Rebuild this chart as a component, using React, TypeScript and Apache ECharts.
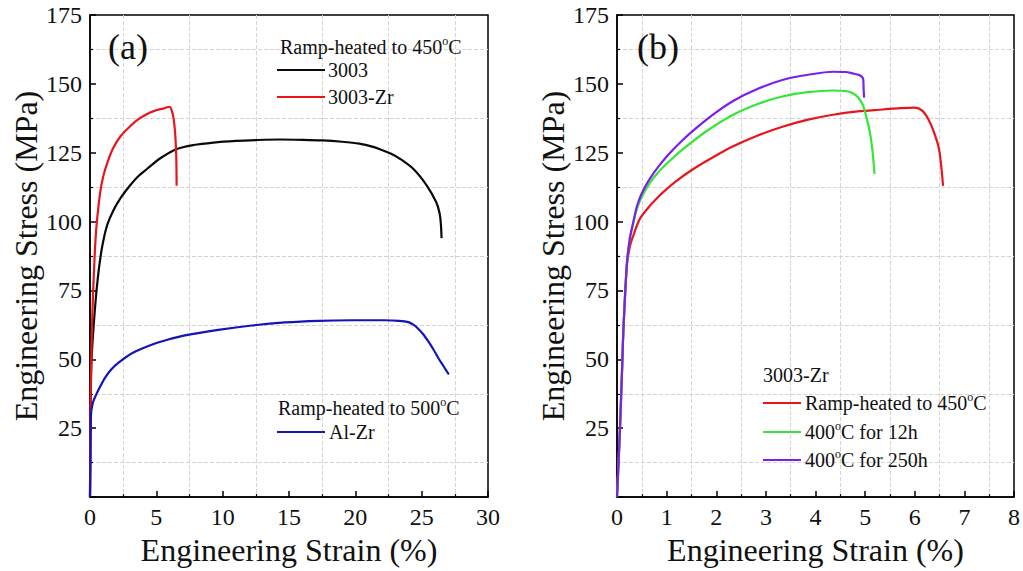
import React, { useEffect, useRef } from "react";
import * as echarts from "echarts";

// ---- Data (strain %, stress MPa) ----
const a3003: [number, number][] = [
  [0, 0], [0.04, 30], [0.1, 48], [0.2, 57], [0.4, 70], [0.6, 80], [0.8, 87.5], [1.0, 93],
  [1.3, 98.8], [1.76, 104], [2.3, 108.5], [3.0, 113], [3.6, 116.3], [4.27, 119], [5.3, 123],
  [6.5, 126.3], [7.8, 127.8], [9.3, 128.7], [11, 129.3], [12.5, 129.6], [14.3, 129.8],
  [16, 129.7], [17.5, 129.5], [19, 129], [20.3, 128.3], [21.2, 127.3], [21.85, 126.3],
  [22.7, 124.6], [23.4, 122.7], [24.4, 119], [25.4, 113], [26.1, 107], [26.35, 103],
  [26.45, 99], [26.5, 94],
];
const a3003Zr: [number, number][] = [
  [0, 0], [0.03, 25], [0.06, 40], [0.15, 62], [0.25, 76], [0.37, 89.5], [0.5, 99], [0.75, 110],
  [1.0, 116.5], [1.35, 122], [1.76, 126.8], [2.3, 131], [3.0, 134.5], [3.6, 137], [4.27, 139],
  [4.9, 140.3], [5.5, 141], [5.8, 141.5], [6.0, 141.7], [6.15, 140.5], [6.3, 137.5],
  [6.42, 132], [6.5, 124], [6.53, 113],
];
const aAlZr: [number, number][] = [
  [0, 0], [0.03, 12], [0.075, 30], [0.2, 34], [0.38, 36.3], [0.7, 39.5], [1.13, 43.3],
  [1.6, 46.3], [2.13, 48.7], [3.2, 52.3], [4.65, 55.3], [5.9, 57.2], [7.16, 58.7], [9.67, 60.7],
  [12.2, 62.3], [14.7, 63.4], [17.2, 64], [19.7, 64.2], [22.2, 64.2], [23.3, 64], [24.0, 63.5],
  [24.4, 62.5], [24.7, 61.3], [25.1, 59.2], [25.5, 56.5], [25.9, 53.5], [26.25, 50.5],
  [26.65, 47.5], [27.05, 44.5],
];

const bRamp: [number, number][] = [
  [0, 0], [0.03, 12], [0.06, 25], [0.1, 45], [0.13, 61], [0.2, 84], [0.26, 91], [0.33, 95],
  [0.46, 101], [0.65, 105.5], [0.86, 109.5], [1.0, 111.8], [1.2, 114.8], [1.53, 119],
  [1.9, 123], [2.3, 127], [2.8, 131], [3.35, 134.5], [3.85, 137], [4.35, 138.8], [4.85, 140],
  [5.36, 140.7], [5.7, 141.2], [6.0, 141.4], [6.15, 140.3], [6.28, 137], [6.39, 132.3],
  [6.49, 126.3], [6.54, 119], [6.57, 113],
];
const b12h: [number, number][] = [
  [0, 0], [0.03, 12], [0.06, 25], [0.1, 45], [0.13, 61], [0.2, 85], [0.26, 94], [0.33, 99.5],
  [0.4, 104.5], [0.5, 109], [0.66, 114], [0.85, 118.3], [1.07, 122.2], [1.33, 126.3],
  [1.8, 132.8], [2.34, 138.8], [2.85, 142.8], [3.35, 145.5], [3.85, 147], [4.35, 147.6],
  [4.6, 147.4], [4.75, 146.6], [4.85, 145.2], [4.95, 142.5], [5.02, 138.3], [5.09, 133],
  [5.14, 127], [5.19, 117.3],
];
const b250h: [number, number][] = [
  [0, 0], [0.03, 12], [0.06, 25], [0.1, 45], [0.13, 61], [0.2, 85], [0.26, 94], [0.33, 100],
  [0.4, 105.5], [0.5, 110.3], [0.66, 115.5], [0.85, 120.3], [1.07, 125], [1.33, 129.7],
  [1.6, 134], [1.9, 138.4], [2.34, 143.8], [2.85, 148.3], [3.35, 151.5], [3.85, 153.3],
  [4.35, 154.4], [4.6, 154.3], [4.75, 153.8], [4.88, 153.2], [4.96, 151.8], [4.97, 148],
  [4.98, 145],
];

const yTicks = [0, 25, 50, 75, 100, 125, 150, 175];
const xTicksA = [0, 5, 10, 15, 20, 25, 30];
const xTicksB = [0, 1, 2, 3, 4, 5, 6, 7, 8];

const COL = {
  black: "#0a0a0a",
  red: "#e8151b",
  blue: "#1414b8",
  green: "#35e635",
  purple: "#7a1ff0",
};

const FONT = "'Liberation Serif', 'Times New Roman', serif";

export default function App() {
  const ref = useRef<HTMLDivElement>(null);
  useEffect(() => {
    document.body.style.margin = "0";
    const chart = echarts.init(ref.current!, null, { renderer: "svg" });

    const axisCommon = {
      type: "value" as const,
      axisLine: { show: true, lineStyle: { color: "#000", width: 1.5 } },
      axisTick: { show: true, inside: true, length: 6, lineStyle: { color: "#000", width: 1.5 } },
      minorTick: { show: true, splitNumber: 2, length: 3, lineStyle: { color: "#000", width: 1.2 } },
      splitLine: { show: false },
      minorSplitLine: { show: true, lineStyle: { color: "#d4d4d4", type: "dashed", width: 1 } },
      axisLabel: { color: "#111", fontFamily: FONT, fontSize: 24, margin: 8 },
      nameTextStyle: { color: "#111", fontFamily: FONT, fontSize: 32 },
    };

    const xAxis = (idx: number, ticks: number[]) => ({
      ...axisCommon,
      gridIndex: idx,
      min: ticks[0],
      max: ticks[ticks.length - 1],
      interval: ticks[1] - ticks[0],
      name: "Engineering Strain (%)",
      nameLocation: "middle",
      nameGap: 32,
    });
    const yAxis = (idx: number) => ({
      ...axisCommon,
      gridIndex: idx,
      min: yTicks[0],
      max: yTicks[yTicks.length - 1],
      interval: yTicks[1] - yTicks[0],
      name: "Engineering Stress (MPa)",
      nameLocation: "middle",
      nameGap: 48,
      axisLabel: {
        ...axisCommon.axisLabel,
        formatter: (v: number) => (v === 0 ? "" : String(v)),
      },
    });

    const line = (name: string, data: [number, number][], color: string, idx: number) => ({
      name,
      type: "line",
      xAxisIndex: idx,
      yAxisIndex: idx,
      data,
      showSymbol: false,
      symbol: "none",
      smooth: 0.3,
      lineStyle: { color, width: 2.2 },
      z: 3,
    });

    const txt = (x: number, y: number, text: string, size = 20) => ({
      type: "text",
      x,
      y,
      style: {
        text,
        fontFamily: FONT,
        fontSize: size,
        fill: "#111",
        verticalAlign: "middle",
        rich: {
          s: { fontSize: 12, fontFamily: FONT, fill: "#111", padding: [0, 0, 12, 0] },
        },
      },
      z: 10,
    });
    const seg = (x1: number, x2: number, y: number, color: string) => ({
      type: "line",
      shape: { x1, y1: y, x2, y2: y },
      style: { stroke: color, lineWidth: 2.2 },
      z: 10,
    });

    chart.setOption({
      animation: false,
      backgroundColor: "#fff",
      grid: [
        { left: 90, width: 398, top: 15, height: 485, show: true, borderColor: "#000", borderWidth: 1.5, backgroundColor: "transparent" },
        { left: 617, width: 398, top: 15, height: 485, show: true, borderColor: "#000", borderWidth: 1.5, backgroundColor: "transparent" },
      ],
      xAxis: [xAxis(0, xTicksA), xAxis(1, xTicksB)],
      yAxis: [yAxis(0), yAxis(1)],
      series: [
        line("3003", a3003, COL.black, 0),
        line("3003-Zr", a3003Zr, COL.red, 0),
        line("Al-Zr", aAlZr, COL.blue, 0),
        line("Ramp-heated to 450°C", bRamp, COL.red, 1),
        line("400°C for 12h", b12h, COL.green, 1),
        line("400°C for 250h", b250h, COL.purple, 1),
      ],
      graphic: [
        txt(108, 47, "(a)", 36),
        txt(637, 47, "(b)", 36),
        txt(280, 47, "Ramp-heated to 450{s|o}C"),
        seg(277, 325, 70, COL.black),
        txt(328, 70, "3003"),
        seg(277, 325, 97, COL.red),
        txt(328, 97, "3003-Zr"),
        txt(278, 408, "Ramp-heated to 500{s|o}C"),
        seg(277, 325, 432, COL.blue),
        txt(329, 432, "Al-Zr"),
        txt(763, 375, "3003-Zr"),
        seg(763, 801, 403, COL.red),
        txt(805, 403, "Ramp-heated to 450{s|o}C"),
        seg(763, 801, 432, COL.green),
        txt(805, 432, "400{s|o}C for 12h"),
        seg(763, 801, 460, COL.purple),
        txt(805, 460, "400{s|o}C for 250h"),
      ],
    });
    return () => chart.dispose();
  }, []);
  return (
    <div
      ref={ref}
      style={{ position: "absolute", left: 0, top: 0, width: 1023, height: 571, background: "#fff" }}
    />
  );
}
